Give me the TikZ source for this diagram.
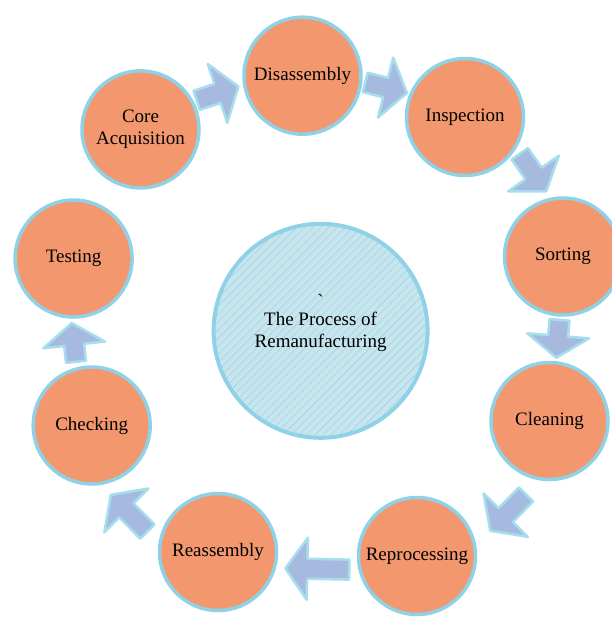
\documentclass[tikz,border=0pt]{standalone}
\usepackage{fontspec}
\setmainfont{Liberation Serif}
\usetikzlibrary{calc, patterns.meta}
\definecolor{stagefill}{HTML}{F3986E}
\definecolor{stageline}{HTML}{8FD2E8}
\definecolor{hubfill}{HTML}{C5E6EE}
\definecolor{hubhatch}{HTML}{A8C6DA}
\definecolor{arrowfill}{HTML}{A6BAE0}
\definecolor{arrowline}{HTML}{A6DEEE}
\tikzset{
x=1pt, y=-1pt, % pixel-like coordinates, y pointing down
every node/.style={font=\fontsize{19}{22}\selectfont, align=center}, % all labels in one size
stage/.style={circle, draw=stageline, line width=3.5pt, fill=stagefill, minimum size=117pt, inner sep=0pt}, % the orange steps
hubcircle/.style={circle, draw=stageline, line width=4pt, minimum size=214pt, preaction={fill=hubfill},
  pattern={Lines[angle=45, distance=5.7pt, line width=0.4pt]}, pattern color=hubhatch}, % the hatched middle
blockarrow/.style={fill=arrowfill, draw=arrowline, line width=2.5pt, line join=round}, % fat arrows between steps
}
% #1 push out from the hub, #2 from, #3 to, #4 length
\newcommand{\flowarrow}[4]{%
  \pgfmathanglebetweenpoints{\pgfpointanchor{#2}{center}}{\pgfpointanchor{#3}{center}}%
  \let\stageangle\pgfmathresult
  \begin{scope}[shift={($(hub)!#1!($(#2)!0.5!(#3)$)$)}, rotate=\stageangle]
    \draw[blockarrow] (-#4/2,10) -- (#4/2-22,10) -- (#4/2-22,31) -- (#4/2,0)
      -- (#4/2-22,-31) -- (#4/2-22,-10) -- (-#4/2,-10) -- cycle;
  \end{scope}}

\begin{document}
\begin{tikzpicture}
    \useasboundingbox (0,0) rectangle (612,621);
    \node[hubcircle, text depth=20pt] (hub) at (320.6,330.8) {\textasciigrave\\[-4pt]The Process of\\Remanufacturing};
    \node[stage] (core) at (140.5,129.4) {Core\\Acquisition};
    \node[stage] (disasm) at (302.5,75.7) {Disassembly};
    \node[stage] (inspect) at (465,117) {Inspection};
    \node[stage] (sort) at (563,256.5) {Sorting};
    \node[stage] (clean) at (549.5,421) {Cleaning};
    \node[stage] (reproc) at (417,556) {Reprocessing};
    \node[stage] (reasm) at (218,552) {Reassembly};
    \node[stage] (check) at (91.7,425.5) {Checking};
    \node[stage] (test) at (73.6,258.5) {Testing};
    \flowarrow{1.04}{core}{disasm}{44}
    \flowarrow{1.037}{disasm}{inspect}{43}
    \flowarrow{1.098}{inspect}{sort}{46}
    \flowarrow{1.007}{sort}{clean}{38}
    \flowarrow{1.153}{clean}{reproc}{51}
    \flowarrow{1.067}{reproc}{reasm}{64}
    \flowarrow{1.155}{reasm}{check}{52}
    \flowarrow{1.037}{check}{test}{39}
\end{tikzpicture}
\end{document}
